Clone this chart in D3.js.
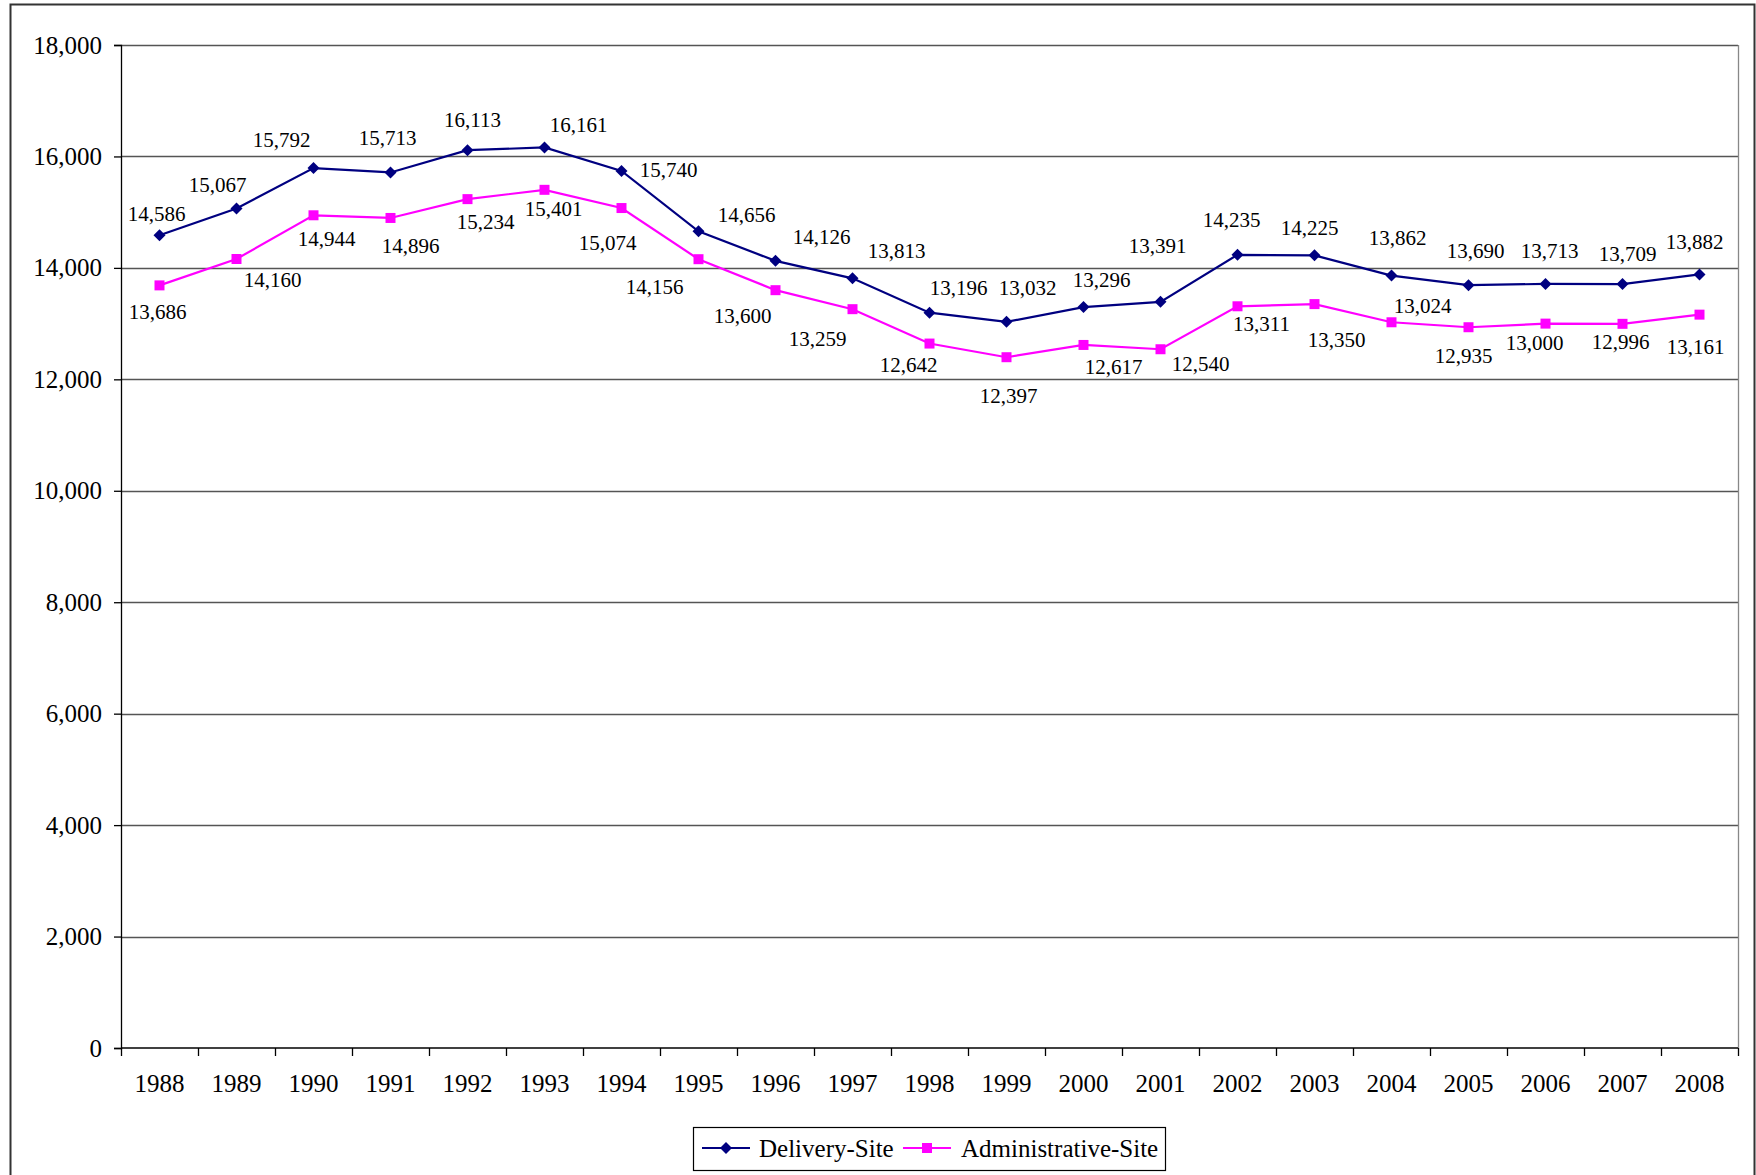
<!DOCTYPE html>
<html>
<head>
<meta charset="utf-8">
<script src="https://cdn.jsdelivr.net/npm/d3@7"></script>
<style>
  body { margin: 0; background: #fff; }
  svg { display: block; font-family: "Liberation Serif", "Times New Roman", serif; }
</style>
</head>
<body>
<script>
// values
const years = ["1988","1989","1990","1991","1992","1993","1994","1995","1996","1997","1998",
               "1999","2000","2001","2002","2003","2004","2005","2006","2007","2008"]
const delivery = [14586,15067,15792,15713,16113,16161,15740,14656,14126,13813,13196,
                  13032,13296,13391,14235,14225,13862,13690,13713,13709,13882]
const administrative = [13686,14160,14944,14896,15234,15401,15074,14156,13600,13259,12642,
                        12397,12617,12540,13311,13350,13024,12935,13000,12996,13161]
const yTicks = [0,2000,4000,6000,8000,10000,12000,14000,16000,18000]
const seriesNames = ["Delivery-Site", "Administrative-Site"]

// where each data label sits relative to its marker (px)
const deliveryLabelOffsets = [[-3,-22],[-19,-24],[-32,-28],[-3,-35],[5,-30],[34,-23],[47,-1],[48,-17],
  [46,-24],[44,-28],[29,-25],[21,-34],[18,-27],[-3,-56],[-6,-35],[-5,-28],[6,-38],[7,-35],[4,-33],[5,-30],[-5,-33]]
const adminLabelOffsets = [[-2,26],[36,21],[13,23],[20,28],[18,23],[9,19],[-14,35],[-44,27],
  [-33,25],[-35,29],[-21,21],[2,38],[30,22],[40,14],[24,17],[22,36],[31,-17],[-5,28],[-11,19],[-2,18],[-4,32]]

const W = 1756, H = 1175
const plot = {left: 121, right: 1738, top: 45, bottom: 1048}

const svg = d3.select("body").append("svg")
  .attr("width", W).attr("height", H)

// outer chart frame
svg.append("rect")
  .attr("x", 10.5).attr("y", 4.5)
  .attr("width", 1744).attr("height", H + 10)
  .attr("fill", "none").attr("stroke", "#333").attr("stroke-width", 2)

const x = d3.scaleBand().domain(years).range([plot.left, plot.right]).padding(0)
const y = d3.scaleLinear().domain([0, 18000]).range([plot.bottom, plot.top])
const cx = d => x(d) + x.bandwidth() / 2

// gridlines
svg.append("g").selectAll("line")
  .data(yTicks.filter(t => t > 0))
  .join("line")
    .attr("x1", plot.left).attr("x2", plot.right)
    .attr("y1", d => Math.round(y(d)) + 0.5).attr("y2", d => Math.round(y(d)) + 0.5)
    .attr("stroke", "#555").attr("stroke-width", 1.3)

// right border of plot area
svg.append("line")
  .attr("x1", plot.right + 0.5).attr("x2", plot.right + 0.5)
  .attr("y1", plot.top).attr("y2", plot.bottom)
  .attr("stroke", "#888").attr("stroke-width", 1.3)

// y axis
const yAxis = svg.append("g")
  .attr("transform", `translate(${plot.left},0)`)
  .call(d3.axisLeft(y).tickValues(yTicks).tickSize(7).tickPadding(12).tickFormat(d3.format(",")))
yAxis.select(".domain").attr("stroke", "#000").attr("stroke-width", 1.3)
yAxis.selectAll(".tick line").attr("stroke", "#000").attr("stroke-width", 1.3)
yAxis.selectAll(".tick text").attr("font-size", 25).attr("font-family", "Liberation Serif").attr("fill", "#000")

// x axis: ticks at category boundaries
const xAxis = svg.append("g")
  .attr("transform", `translate(0,${plot.bottom})`)
xAxis.append("line")
  .attr("x1", plot.left).attr("x2", plot.right)
  .attr("stroke", "#000").attr("stroke-width", 1.5)
xAxis.selectAll(".bnd")
  .data(years.map(d => x(d)).concat([plot.right]))
  .join("line")
    .attr("class", "bnd")
    .attr("x1", d => Math.round(d) + 0.5).attr("x2", d => Math.round(d) + 0.5)
    .attr("y1", 0).attr("y2", 8)
    .attr("stroke", "#000").attr("stroke-width", 1.3)
xAxis.selectAll("text")
  .data(years)
  .join("text")
    .attr("x", d => cx(d))
    .attr("y", 44)
    .attr("text-anchor", "middle")
    .attr("font-size", 25)
    .text(d => d)

const line = d3.line().x((d, i) => cx(years[i])).y(d => y(d))

function drawSeries(values, color, shape, offsets) {
  const g = svg.append("g")
  g.append("path")
    .datum(values)
    .attr("fill", "none")
    .attr("stroke", color)
    .attr("stroke-width", 2.2)
    .attr("d", line)
  g.selectAll("path.mark")
    .data(values)
    .join("path")
      .attr("class", "mark")
      .attr("transform", (d, i) => `translate(${cx(years[i])},${y(d)})`)
      .attr("d", shape)
      .attr("fill", color)
  g.selectAll("text")
    .data(values)
    .join("text")
      .attr("x", (d, i) => cx(years[i]) + offsets[i][0])
      .attr("y", (d, i) => y(d) + offsets[i][1])
      .attr("dy", "0.35em")
      .attr("text-anchor", "middle")
      .attr("font-size", 21)
      .attr("fill", "#000")
      .text(d => d3.format(",")(d))
}

const diamond = "M0,-6L6,0L0,6L-6,0Z"
const square = "M-5,-5H5V5H-5Z"

drawSeries(administrative, "#ff00ff", square, adminLabelOffsets)
drawSeries(delivery, "#000080", diamond, deliveryLabelOffsets)

// legend
const lg = svg.append("g")
lg.append("rect")
  .attr("x", 693.5).attr("y", 1127.5)
  .attr("width", 472).attr("height", 43)
  .attr("fill", "#fff").attr("stroke", "#000").attr("stroke-width", 1.2)
const legendItems = [
  {name: seriesNames[0], color: "#000080", shape: diamond, x0: 702, tx: 759},
  {name: seriesNames[1], color: "#ff00ff", shape: square, x0: 903, tx: 961}
]
legendItems.forEach(it => {
  lg.append("line")
    .attr("x1", it.x0).attr("x2", it.x0 + 48)
    .attr("y1", 1148).attr("y2", 1148)
    .attr("stroke", it.color).attr("stroke-width", 2.2)
  lg.append("path")
    .attr("transform", `translate(${it.x0 + 24},1148)`)
    .attr("d", it.shape).attr("fill", it.color)
  lg.append("text")
    .attr("x", it.tx).attr("y", 1148).attr("dy", "0.35em")
    .attr("font-size", 25)
    .text(it.name)
})
</script>
</body>
</html>
